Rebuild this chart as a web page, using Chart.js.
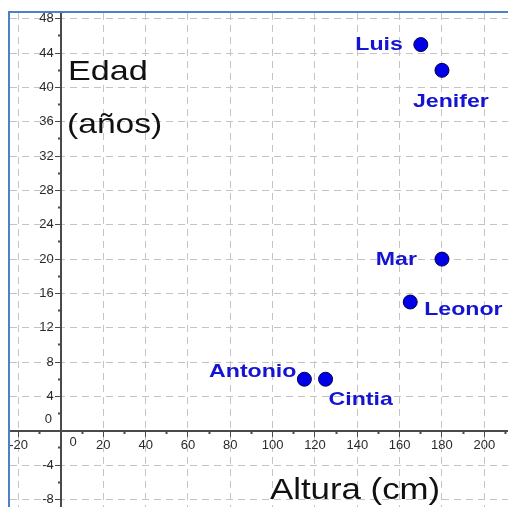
<!DOCTYPE html>
<html>
<head>
<meta charset="utf-8">
<script src="https://cdn.jsdelivr.net/npm/chart.js@4"></script>
<style>
  html, body { margin: 0; padding: 0; background: #fff; }
  #frame {
    position: absolute; left: 8px; top: 11px;
    width: 498px; height: 494px; overflow: hidden;
    border-left: 2px solid #4f7fc6; border-top: 2px solid #4f7fc6;
  }
  canvas { display: block; }
</style>
</head>
<body>
<div id="frame"><canvas id="chart" width="498" height="494"></canvas></div>
<script>
// datos de las personas
const nombres = ["Antonio", "Cintia", "Leonor", "Mar", "Luis", "Jenifer"];
const alturas = [115, 125, 165, 180, 170, 180];
const edades = [6, 6, 15, 20, 45, 42];

// marcas de los ejes
const xTicksMayores = [-20, 0, 20, 40, 60, 80, 100, 120, 140, 160, 180, 200];
const yTicksMayores = [-8, -4, 0, 4, 8, 12, 16, 20, 24, 28, 32, 36, 40, 44, 48];

// donde va cada nombre respecto a su punto
const posEtiquetas = [
  { dx: -8, dy: -7, align: "right" },
  { dx: 3, dy: 21, align: "left" },
  { dx: 14, dy: 8, align: "left" },
  { dx: -25, dy: 1, align: "right" },
  { dx: -18, dy: 0, align: "right" },
  { dx: -29, dy: 32, align: "left" },
];

const FUENTE = "'Liberation Sans', Arial, sans-serif";
const GRIS_GRID = "#c4c4c4";
const EJE = "#4a4a4a";

// agrega marcas menores a mitad de paso
function conMenores(mayores) {
  const paso = mayores[1] - mayores[0];
  const todos = [];
  mayores.forEach((v) => {
    todos.push(v);
    todos.push(v + paso / 2);
  });
  return todos;
}

function esMayor(lista, v) {
  return lista.indexOf(v) !== -1;
}

function textoEstirado(ctx, txt, x, y, fx) {
  ctx.save();
  ctx.translate(x, y);
  ctx.scale(fx, 1);
  ctx.fillText(txt, 0, 0);
  ctx.restore();
}

// que el area del grafico ocupe todo el canvas
function sinPadding(scale) {
  scale.paddingLeft = 0;
  scale.paddingRight = 0;
  scale.paddingTop = 0;
  scale.paddingBottom = 0;
}

const etiquetasPlugin = {
  id: "etiquetas",
  afterDatasetsDraw(chart) {
    const ctx = chart.ctx;
    const meta = chart.getDatasetMeta(0);
    const sx = chart.scales.x;
    const sy = chart.scales.y;

    // nombres
    ctx.save();
    ctx.fillStyle = "#1414d2";
    ctx.font = "bold 18.5px " + FUENTE;
    ctx.textBaseline = "middle";
    meta.data.forEach((p, i) => {
      const pos = posEtiquetas[i];
      ctx.textAlign = pos.align;
      textoEstirado(ctx, nombres[i], p.x + pos.dx, p.y + pos.dy, 1.25);
    });
    ctx.restore();

    // ceros de los ejes
    const ox = sx.getPixelForValue(0);
    const oy = sy.getPixelForValue(0);
    ctx.save();
    ctx.fillStyle = "#2a2a2a";
    ctx.font = "13px " + FUENTE;
    ctx.textBaseline = "middle";
    ctx.textAlign = "center";
    ctx.fillText("0", ox + 12, oy + 12);
    ctx.textAlign = "right";
    ctx.fillText("0", ox - 9, oy - 11);
    ctx.restore();

    // titulos de los ejes
    ctx.save();
    ctx.fillStyle = "#111";
    ctx.textAlign = "left";
    ctx.textBaseline = "alphabetic";
    ctx.font = "28px " + FUENTE;
    textoEstirado(ctx, "Edad", 58, 67, 1.22);
    textoEstirado(ctx, "(años)", 57, 120, 1.2);
    ctx.font = "29px " + FUENTE;
    textoEstirado(ctx, "Altura (cm)", 260, 486, 1.2);
    ctx.restore();
  },
};

const puntos = alturas.map((a, i) => ({ x: a, y: edades[i] }));

new Chart(document.getElementById("chart").getContext("2d"), {
  type: "scatter",
  data: {
    datasets: [
      {
        data: puntos,
        pointRadius: 7,
        pointBackgroundColor: "#0000e8",
        pointBorderColor: "#00004a",
        pointBorderWidth: 1,
      },
    ],
  },
  options: {
    responsive: false,
    animation: false,
    events: [],
    layout: { padding: 0, autoPadding: false },
    plugins: {
      legend: { display: false },
      tooltip: { enabled: false },
    },
    scales: {
      x: {
        type: "linear",
        position: { y: 0 },
        min: -24.1,
        max: 211.2,
        afterBuildTicks: (scale) => {
          scale.ticks = conMenores(xTicksMayores).map((v) => ({ value: v }));
        },
        afterFit: sinPadding,
        ticks: {
          autoSkip: false,
          maxRotation: 0,
          padding: 2,
          color: "#2a2a2a",
          font: { family: FUENTE, size: 13 },
          callback: (v) => (esMayor(xTicksMayores, v) && v !== 0 ? String(v) : ""),
        },
        grid: {
          color: (c) => (c.tick && esMayor(xTicksMayores, c.tick.value) && c.tick.value !== 0 ? GRIS_GRID : "transparent"),
          lineWidth: 1,
          tickLength: 5,
          tickColor: EJE,
          tickWidth: (c) => (c.tick && esMayor(xTicksMayores, c.tick.value) ? 1 : 2),
          tickBorderDash: (c) => (c.tick && esMayor(xTicksMayores, c.tick.value) ? [] : [2, 10]),
        },
        border: { color: EJE, width: 2, dash: [7, 5] },
      },
      y: {
        type: "linear",
        position: { x: 0 },
        min: -8.89,
        max: 48.68,
        afterBuildTicks: (scale) => {
          scale.ticks = conMenores(yTicksMayores).map((v) => ({ value: v }));
        },
        afterFit: sinPadding,
        ticks: {
          autoSkip: false,
          padding: 3,
          color: "#2a2a2a",
          font: { family: FUENTE, size: 13 },
          // el eje centrado no separa las etiquetas, se deja hueco con espacios
          callback: (v) => (esMayor(yTicksMayores, v) && v !== 0 ? String(v) + "  " : ""),
        },
        grid: {
          color: (c) => (c.tick && esMayor(yTicksMayores, c.tick.value) && c.tick.value !== 0 ? GRIS_GRID : "transparent"),
          lineWidth: 1,
          tickLength: 5,
          tickColor: EJE,
          tickWidth: (c) => (c.tick && esMayor(yTicksMayores, c.tick.value) ? 1 : 2),
          tickBorderDash: (c) => (c.tick && esMayor(yTicksMayores, c.tick.value) ? [] : [2, 10]),
        },
        border: { color: EJE, width: 2, dash: [7, 5] },
      },
    },
  },
  plugins: [etiquetasPlugin],
});
</script>
</body>
</html>
